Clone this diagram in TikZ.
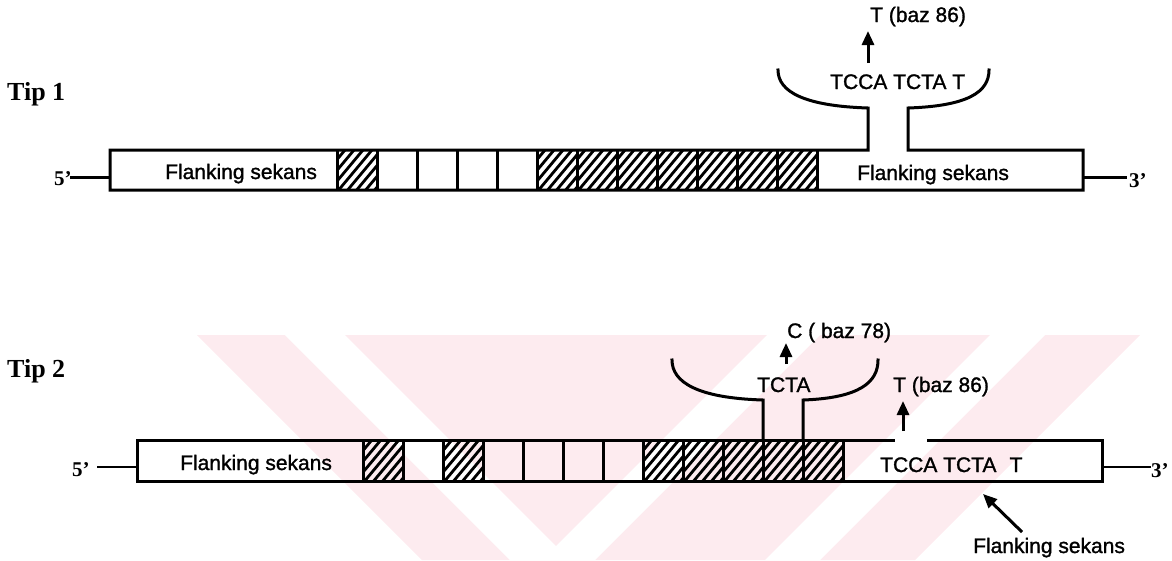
\documentclass[tikz,border=0pt]{standalone}
\usepackage{fontspec}
\setmainfont{Liberation Sans}[BoldFont={Liberation Sans},BoldFeatures={FakeBold=1.3}]
\newfontfamily\serifrm{Liberation Serif}
\usetikzlibrary{arrows.meta}
\definecolor{wm}{RGB}{253,235,239}
\tikzset{
  lab/.style={inner sep=0pt,anchor=base west,font=\bfseries\fontsize{21pt}{25pt}\selectfont},
  tip/.style={inner sep=0pt,anchor=base west,font=\serifrm\bfseries\fontsize{26pt}{30pt}\selectfont},
  prime/.style={inner sep=0pt,anchor=base west,font=\serifrm\bfseries\fontsize{21pt}{25pt}\selectfont},
  barline/.style={line width=3pt,line join=miter,line cap=rect},
  divline/.style={line width=3pt},
  endline/.style={line width=3pt},
  hatchline/.style={line width=2.8pt},
  uparrow/.style={line width=3pt,-{Triangle[length=14pt,width=12pt]}},
}
\newcommand\hcell[3]{%
  \begin{scope}
    \clip (#1,#2) rectangle (#1+40,#3);
    \foreach \k in {-7,...,6} \draw[hatchline] (#1+\k*9,#3+2) -- ++(40,-48);
  \end{scope}}
\begin{document}
\begin{tikzpicture}[x=1pt,y=-1pt]
\useasboundingbox (0,0) rectangle (1172,560);
% watermark
\begin{scope}
  \clip (0,335) rectangle (1172,560);
  \fill[wm] (197,335) -- (1140,335) -- (915,560) -- (422,560) -- cycle;
  \fill[white] (285,335) -- (345,335) -- (570,560) -- (510,560) -- cycle;
  \fill[white] (767,335) -- (820,335) -- (595,560) -- (542,560) -- cycle;
  \fill[white] (990,335) -- (1045,335) -- (820,560) -- (765,560) -- cycle;
\end{scope}
% ---------- Tip 1 ----------
\node[tip] (tip1) at (7,100) {Tip 1};
\foreach \c in {337,537,577,617,657,697,737,777} \hcell{\c}{150}{190};
\foreach \c in {377,417,457,497,537,577,617,657,697,737,777,817}
  \draw[divline] (\c,150) -- (\c,190);
\draw[divline] (337,150) -- (337,190);
\draw[barline] (778,70) .. controls (778,92) and (805,106) .. (868,108) -- (868,150)
  -- (110,150) -- (110,190) -- (1083,190) -- (1083,150) -- (908,150) -- (908,108)
  .. controls (968,106) and (989,92) .. (989,70);
\node[prime] (p5a) at (54,185) {5’};
\coordinate (l5a) at (70,177);
\coordinate (b5a) at (110,177);
\draw[endline] (l5a) -- (b5a);
\node[prime] (p3a) at (1129,187) {3’};
\coordinate (b3a) at (1083,177);
\coordinate (l3a) at (1127,177);
\draw[endline] (b3a) -- (l3a);
\node[lab] (fl1) at (165,179) {Flanking sekans};
\node[lab] (fr1) at (857,180) {Flanking sekans};
\node[lab] (seq1) at (830,89) {TCCA TCTA T};
\node[lab] (baz1) at (870,22) {T (baz 86)};
\coordinate (a1s) at (868,63);
\coordinate (a1e) at (868,31);
\draw[uparrow] (a1s) -- (a1e);
% ---------- Tip 2 ----------
\node[tip] (tip2) at (7,377) {Tip 2};
\foreach \c in {363,443,643,683,723,763,803} \hcell{\c}{440}{481};
\foreach \c in {363,403,443,483,523,563,603,643,683,723,763,803,843}
  \draw[divline] (\c,440) -- (\c,481);
\draw[barline] (893,440) -- (137,440) -- (137,481) -- (1102,481) -- (1102,440) -- (928,440);
\draw[barline] (672,360) .. controls (672,382) and (697,398) .. (763,400) -- (763,440);
\draw[barline] (803,440) -- (803,400) .. controls (860,398) and (878,382) .. (878,360);
\node[prime] (p5b) at (72,476) {5’};
\coordinate (l5b) at (97,467);
\coordinate (b5b) at (137,467);
\draw[line width=2.4pt] (l5b) -- (b5b);
\node[prime] (p3b) at (1151,477) {3’};
\coordinate (b3b) at (1102,467);
\coordinate (l3b) at (1151,467);
\draw[line width=2.4pt] (b3b) -- (l3b);
\node[lab] (fl2) at (180,470) {Flanking sekans};
\node[lab] (seq2) at (880,472) {TCCA TCTA\hspace{0.35em} T};
\node[lab] (tcta) at (757,392) {TCTA};
\node[lab] (baz78) at (787,338) {C ( baz 78)};
\node[lab] (baz2) at (893,392) {T (baz 86)};
\node[lab] (fbot) at (973,553) {Flanking sekans};
\coordinate (a2s) at (786,364);
\coordinate (a2e) at (786,343);
\draw[uparrow] (a2s) -- (a2e);
\coordinate (a3s) at (903,431);
\coordinate (a3e) at (903,401);
\draw[uparrow] (a3s) -- (a3e);
\coordinate (a4s) at (1022,532);
\coordinate (a4e) at (983,494);
\draw[uparrow] (a4s) -- (a4e);
\end{tikzpicture}
\end{document}
